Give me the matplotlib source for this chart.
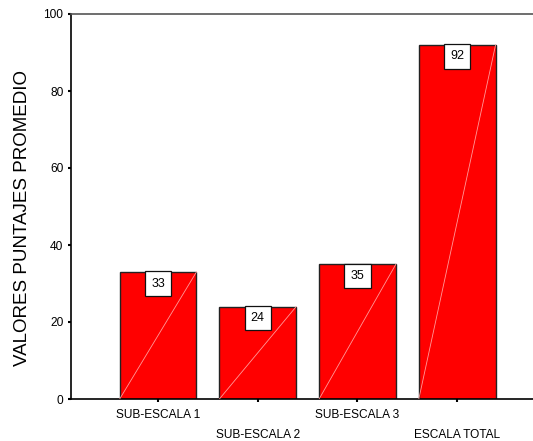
import matplotlib.pyplot as plt

plt.rcParams['font.family'] = ['Liberation Sans', 'DejaVu Sans']

categories = ['SUB-ESCALA 1', 'SUB-ESCALA 2', 'SUB-ESCALA 3', 'ESCALA TOTAL']
values = [33, 24, 35, 92]
y_ticks = [0, 20, 40, 60, 80, 100]

fig = plt.figure(figsize=(5.33, 4.41), dpi=100)
ax = fig.add_axes([71 / 533, 1 - 399 / 441, 1 - 71 / 533, (399 - 14) / 441])

pos = list(range(len(categories)))
bars = ax.bar(pos, values, width=0.77, color='#ff0000', edgecolor='#222222', linewidth=1.0, zorder=2)

# diagonal line inside each bar (spss style)
for b in bars:
    x0 = b.get_x()
    x1 = x0 + b.get_width()
    ax.plot([x0, x1], [0, b.get_height()], color='#ff9a9a', lw=0.6, zorder=3)

for p, v in zip(pos, values):
    ax.annotate(str(v), xy=(p, v), xytext=(0, -4), textcoords='offset points',
                ha='center', va='top', fontsize=9, zorder=4,
                bbox=dict(boxstyle='square,pad=0.5', fc='white', ec='#111111', lw=0.9))

ax.set_xlim(-0.873, 3.76)
ax.set_ylim(0, 100)
ax.set_yticks(y_ticks)
ax.set_xticks(pos)
ax.set_xticklabels(categories, fontsize=8.6)
for i, t in enumerate(ax.xaxis.get_major_ticks()):
    t.set_pad(4.5 if i % 2 == 0 else 19.3)
ax.tick_params(axis='y', labelsize=8.6, length=2.5, width=1.5, direction='out', pad=3)
ax.tick_params(axis='x', length=2.5, width=1.5, direction='out')

ax.spines['right'].set_visible(False)
ax.spines['left'].set_linewidth(1.2)
ax.spines['bottom'].set_linewidth(1.2)
ax.spines['top'].set_color('#555555')
ax.spines['top'].set_linewidth(1.2)

ax.set_ylabel('VALORES PUNTAJES PROMEDIO', fontsize=13.5)
ax.yaxis.set_label_coords(-0.086, 0.47)

plt.savefig('out.png', dpi=100)
